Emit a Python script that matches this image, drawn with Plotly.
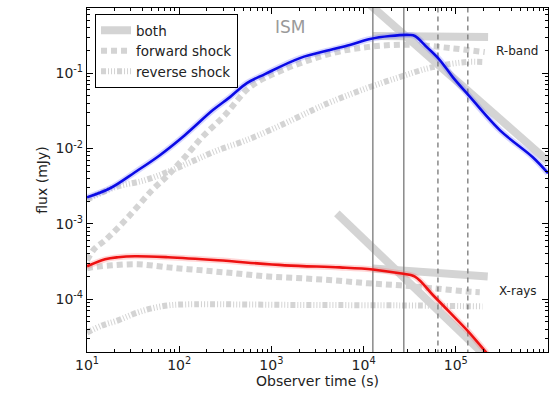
import plotly.graph_objects as go

# ---------------- data ----------------
# R-band total (both shocks)
r_t = [10, 17.8, 33.1, 61.7, 115, 232, 355, 542, 851, 2040, 4310, 7080, 11750,
       19280, 31600, 36000, 48500, 67100, 92700, 131500, 300000, 684000, 1000000]
r_f = [2.25e-3, 2.97e-3, 4.84e-3, 8.15e-3, 1.50e-2, 3.23e-2, 4.80e-2, 7.36e-2,
       9.70e-2, 0.158, 0.202, 0.236, 0.283, 0.310, 0.320, 0.310, 0.221, 0.149,
       0.0885, 0.0542, 0.0175, 0.00766, 0.00470]

# R-band forward shock
rf_t = [10, 12.2, 15.7, 27.8, 50.7, 75.5, 115, 177, 313, 585, 1330, 4650, 10840,
        20750, 37800, 86100, 206000]
rf_f = [3.29e-4, 4.74e-4, 6.05e-4, 1.22e-3, 2.79e-3, 4.42e-3, 7.66e-3, 1.41e-2,
        2.77e-2, 6.52e-2, 0.110, 0.185, 0.221, 0.236, 0.236, 0.215, 0.190]

# R-band reverse shock
rr_t = [10, 20, 42.7, 83.2, 148, 263, 537, 1230, 2820, 4680, 10840, 24550, 56200,
        131800, 195000]
rr_f = [2.09e-3, 3.06e-3, 3.80e-3, 5.15e-3, 7.00e-3, 9.48e-3, 1.29e-2, 2.00e-2,
        3.24e-2, 4.27e-2, 6.31e-2, 8.85e-2, 0.120, 0.140, 0.140]

# X-ray total
x_t = [10, 15.7, 21.7, 33.1, 75.5, 263, 1400, 5520, 12590, 24700, 36000, 56400,
       86100, 131500, 218800]
x_f = [2.74e-4, 3.39e-4, 3.61e-4, 3.72e-4, 3.61e-4, 3.29e-4, 2.82e-4, 2.65e-4,
       2.49e-4, 2.21e-4, 2.00e-4, 1.14e-4, 6.70e-5, 3.93e-5, 1.91e-5]

# X-ray forward shock
xf_t = [10, 11.3, 18.7, 35.7, 75.5, 177, 402, 916, 2140, 4880, 11120, 24700,
        56400, 131500, 182000]
xf_f = [2.57e-4, 2.65e-4, 2.82e-4, 2.91e-4, 2.65e-4, 2.42e-4, 2.21e-4, 2.01e-4,
        1.90e-4, 1.78e-4, 1.63e-4, 1.53e-4, 1.40e-4, 1.27e-4, 1.24e-4]

# X-ray reverse shock
xr_t = [10, 14.6, 21.7, 33.1, 50.7, 75.5, 115, 2040, 24550, 195000]
xr_f = [3.63e-5, 4.50e-5, 5.25e-5, 6.50e-5, 7.59e-5, 8.30e-5, 8.55e-5, 8.41e-5,
        8.30e-5, 8.05e-5]

# power-law asymptotes ("both")
ra_t = [10000, 1000000]
ra_f = [0.957, 6.76e-3]
rh_t = [12590, 224000]
rh_f = [0.310, 0.302]
xa_t = [5130, 200000]
xa_f = [1.38e-3, 1.88e-5]
xh_t = [12590, 222000]
xh_f = [2.57e-4, 2.01e-4]

# break times
solid_t = [12600, 27300]
dashed_t = [64000, 135000]

x_ticks = [10, 100, 1000, 10000, 100000]
x_ticktext = ["10<sup>1</sup>", "10<sup>2</sup>", "10<sup>3</sup>", "10<sup>4</sup>", "10<sup>5</sup>"]
y_ticks = [1e-4, 1e-3, 1e-2, 1e-1]
y_ticktext = ["10<sup>-4</sup>", "10<sup>-3</sup>", "10<sup>-2</sup>", "10<sup>-1</sup>"]

# ---------------- styles ----------------
GREY = "#d4d4d4"
BLUE = "#0a0ae6"
RED = "#ee1111"
FONT = "DejaVu Sans"
FW_DASH = "6px,4px"
RV_DASH = "5px,2px,1px,2px,1px,2px,1px,2px"

fig = go.Figure()

# asymptotes (both)
fig.add_trace(go.Scatter(x=ra_t, y=ra_f, mode="lines", name="both",
                         line=dict(color=GREY, width=8), showlegend=True))
for tt, ff in [(rh_t, rh_f), (xa_t, xa_f), (xh_t, xh_f)]:
    fig.add_trace(go.Scatter(x=tt, y=ff, mode="lines", showlegend=False,
                             line=dict(color=GREY, width=8)))

# forward shocks
fig.add_trace(go.Scatter(x=rf_t, y=rf_f, mode="lines", name="forward shock",
                         line=dict(color=GREY, width=6, dash=FW_DASH, shape="spline"),
                         showlegend=True))
fig.add_trace(go.Scatter(x=xf_t, y=xf_f, mode="lines", showlegend=False,
                         line=dict(color=GREY, width=6, dash=FW_DASH, shape="spline")))

# reverse shocks
fig.add_trace(go.Scatter(x=rr_t, y=rr_f, mode="lines", name="reverse shock",
                         line=dict(color=GREY, width=6, dash=RV_DASH, shape="spline"),
                         showlegend=True))
fig.add_trace(go.Scatter(x=xr_t, y=xr_f, mode="lines", showlegend=False,
                         line=dict(color=GREY, width=6, dash=RV_DASH, shape="spline")))

# vertical break lines
for t in solid_t:
    fig.add_trace(go.Scatter(x=[t, t], y=[1e-7, 10], mode="lines", showlegend=False,
                             line=dict(color="#808080", width=1.4)))
for t in dashed_t:
    fig.add_trace(go.Scatter(x=[t, t], y=[1e-7, 10], mode="lines", showlegend=False,
                             line=dict(color="#808080", width=1.4, dash="5px,4px")))

# totals
for tt, ff, c, halo in [(r_t, r_f, BLUE, "rgba(90,90,255,0.25)"),
                        (x_t, x_f, RED, "rgba(255,90,90,0.25)")]:
    fig.add_trace(go.Scatter(x=tt, y=ff, mode="lines", showlegend=False,
                             line=dict(color=halo, width=6, shape="spline")))
    fig.add_trace(go.Scatter(x=tt, y=ff, mode="lines", showlegend=False,
                             line=dict(color=c, width=2.6, shape="spline")))

axis_common = dict(type="log", showline=True, linecolor="black", linewidth=1.2,
                   mirror="allticks", ticks="inside", ticklen=6, tickwidth=1,
                   tickcolor="black", showgrid=False, zeroline=False,
                   tickfont=dict(family=FONT, size=14, color="#222"),
                   minor=dict(ticks="inside", ticklen=3, tickwidth=0.8,
                              tickcolor="black", dtick="D1", showgrid=False))

fig.update_xaxes(**axis_common, range=[1, 6], tickmode="array", tickvals=x_ticks,
                 ticktext=x_ticktext,
                 title=dict(text="Observer time (s)", standoff=2,
                            font=dict(family=FONT, size=14, color="#222")))
fig.update_yaxes(**axis_common, range=[-4.699, -0.137], tickmode="array",
                 tickvals=y_ticks, ticktext=y_ticktext,
                 title=dict(text="flux (mJy)", standoff=4,
                            font=dict(family=FONT, size=14, color="#222")))

ann = dict(xref="paper", yref="paper", showarrow=False, xanchor="center", yanchor="middle")
fig.add_annotation(x=0.44, y=0.945, text="ISM",
                   font=dict(family=FONT, size=17, color="#9a9a9a"), **ann)
fig.add_annotation(x=0.933, y=0.875, text="R-band",
                   font=dict(family=FONT, size=12, color="#222"), **ann)
fig.add_annotation(x=0.935, y=0.177, text="X-rays",
                   font=dict(family=FONT, size=12, color="#222"), **ann)

fig.update_layout(
    width=552, height=394,
    margin=dict(l=87, r=4, t=8, b=42),
    plot_bgcolor="white", paper_bgcolor="white",
    legend=dict(x=0.0174, y=0.9826, xanchor="left", yanchor="top",
                bgcolor="white", bordercolor="black", borderwidth=1,
                font=dict(family=FONT, size=13.5, color="#222"),
                tracegroupgap=0),
)

fig.write_html("out.html")
